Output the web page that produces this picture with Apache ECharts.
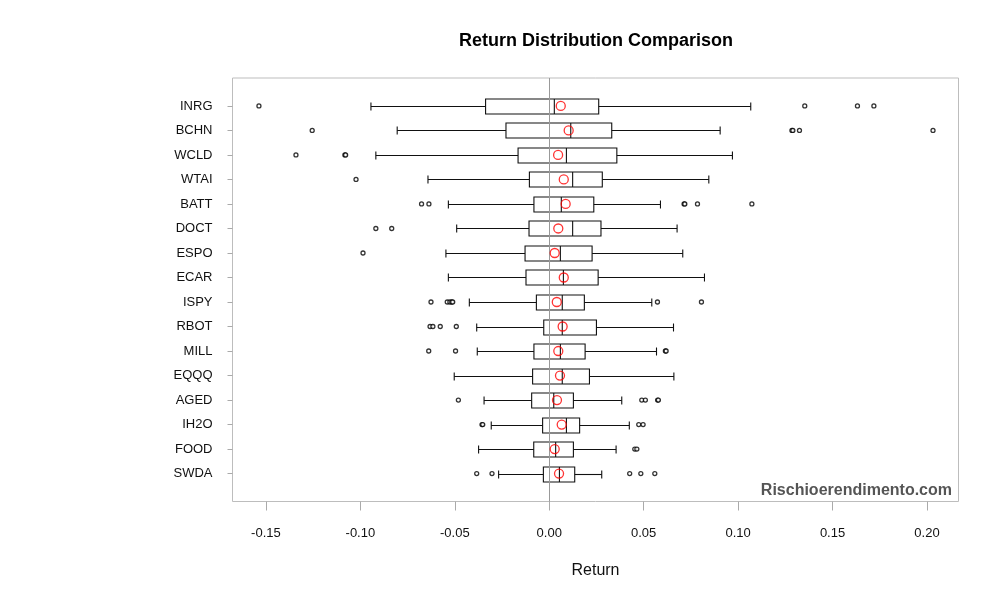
<!DOCTYPE html>
<html>
<head>
<meta charset="utf-8">
<script src="https://cdn.jsdelivr.net/npm/echarts@6/dist/echarts.min.js"></script>
<style>html,body{margin:0;padding:0;background:#fff}#c{width:1000px;height:600px}</style>
</head>
<body>
<div id="c"></div>
<script>
// Categories, top to bottom as displayed
var categories = ['INRG','BCHN','WCLD','WTAI','BATT','DOCT','ESPO','ECAR','ISPY','RBOT','MILL','EQQQ','AGED','IH2O','FOOD','SWDA'];
var whiskerLow  = [-0.0944,-0.0805,-0.0918,-0.0642,-0.0534,-0.0490,-0.0547,-0.0534,-0.0423,-0.0384,-0.0381,-0.0503,-0.0345,-0.0307,-0.0374,-0.0268];
var q1          = [-0.0337,-0.0229,-0.0165,-0.0105,-0.0081,-0.0107,-0.0128,-0.0123,-0.0068,-0.0029,-0.0081,-0.0088,-0.0093,-0.0035,-0.0082,-0.0031];
var medians     = [0.0027,0.0114,0.0091,0.0124,0.0064,0.0124,0.0059,0.0075,0.0069,0.0069,0.0059,0.0069,0.0024,0.0091,0.0034,0.0054];
var q3          = [0.0262,0.0331,0.0358,0.0281,0.0236,0.0274,0.0227,0.0259,0.0186,0.0250,0.0190,0.0213,0.0128,0.0161,0.0128,0.0135];
var whiskerHigh = [0.1067,0.0905,0.0970,0.0845,0.0589,0.0677,0.0707,0.0822,0.0543,0.0658,0.0568,0.0660,0.0384,0.0424,0.0354,0.0278];
var means       = [0.0061,0.0103,0.0047,0.0077,0.0087,0.0048,0.0029,0.0077,0.0040,0.0071,0.0048,0.0057,0.0041,0.0066,0.0029,0.0052];
var outliers = [
  [-0.1537, 0.1353, 0.1632, 0.1719],
  [-0.1255, 0.1285, 0.1290, 0.1325, 0.2032],
  [-0.1341, -0.1082, -0.1078],
  [-0.1023],
  [-0.0676, -0.0637, 0.0714, 0.0718, 0.0785, 0.1073],
  [-0.0918, -0.0834],
  [-0.0986],
  [],
  [-0.0626, -0.0540, -0.0526, -0.0516, -0.0511, 0.0573, 0.0806],
  [-0.0631, -0.0616, -0.0577, -0.0492],
  [-0.0638, -0.0496, 0.0615, 0.0619],
  [],
  [-0.0481, 0.0490, 0.0509, 0.0574, 0.0578],
  [-0.0356, -0.0352, 0.0474, 0.0497],
  [0.0453, 0.0464],
  [-0.0384, -0.0303, 0.0426, 0.0485, 0.0559]
];
var xTicks = [-0.15, -0.10, -0.05, 0.00, 0.05, 0.10, 0.15, 0.20];

var n = categories.length;
function pos(i){ return n - i; }
var boxData = categories.map(function(c,i){ return [pos(i), whiskerLow[i], q1[i], medians[i], q3[i], whiskerHigh[i]]; });
var meanData = categories.map(function(c,i){ return [means[i], pos(i)]; });
var outData = [];
outliers.forEach(function(arr,i){ arr.forEach(function(v){ outData.push([v, pos(i)]); }); });
var yPositions = categories.map(function(c,i){ return pos(i); });

var FONT = 'Liberation Sans, Arial, Helvetica, sans-serif';
var chart = echarts.init(document.getElementById('c'));
chart.setOption({
  animation: false,
  backgroundColor: '#fff',
  grid: { left: 232.5, right: 41.5, top: 78, bottom: 98.5, show: true, borderColor: '#bdbdbd', borderWidth: 1, backgroundColor: 'transparent' },
  xAxis: {
    type: 'value', min: -0.1677, max: 0.2167, position: 'bottom',
    axisLine: { show: false, onZero: false },
    splitLine: { show: false },
    axisTick: { show: true, customValues: xTicks, length: 9, lineStyle: { color: '#aaa' } },
    axisLabel: { customValues: xTicks, margin: 25, fontSize: 13, color: '#111', fontFamily: FONT,
      formatter: function(v){ return v.toFixed(2); } },
    name: 'Return', nameLocation: 'middle', nameGap: 61,
    nameTextStyle: { fontSize: 16, color: '#111', fontFamily: FONT }
  },
  yAxis: {
    type: 'value', min: -0.14, max: 17.14, position: 'left',
    axisLine: { show: false, onZero: false },
    splitLine: { show: false },
    axisTick: { show: true, customValues: yPositions, length: 5, lineStyle: { color: '#aaa' } },
    axisLabel: { customValues: yPositions, margin: 20, fontSize: 13, color: '#111', fontFamily: FONT,
      formatter: function(v){ return categories[n - Math.round(v)] || ''; } }
  },
  graphic: [
    { type: 'text', x: 596, y: 41, style: { text: 'Return Distribution Comparison', font: 'bold 18px ' + FONT, fill: '#000', align: 'center', verticalAlign: 'middle' } },
    { type: 'text', x: 952, y: 491, z: 10, style: { text: 'Rischioerendimento.com', font: 'bold 16px ' + FONT, fill: '#555', align: 'right', verticalAlign: 'middle' } }
  ],
  series: [
    {
      type: 'custom',
      data: boxData,
      encode: { x: [1,2,3,4,5], y: 0 },
      z: 3,
      markLine: {
        silent: true, symbol: 'none', label: { show: false },
        lineStyle: { color: '#999', width: 1, type: 'solid' },
        data: [ { xAxis: 0 } ]
      },
      renderItem: function(params, api){
        var p = api.value(0);
        var lo = api.coord([api.value(1), p]);
        var a = api.coord([api.value(2), p]);
        var m = api.coord([api.value(3), p]);
        var b = api.coord([api.value(4), p]);
        var hi = api.coord([api.value(5), p]);
        var y = Math.round(lo[1]) + 0.5;
        var h = 7.5, c = 4;
        var st = { stroke: '#111', lineWidth: 1.1, fill: null };
        return { type: 'group', children: [
          { type: 'line', shape: { x1: lo[0], y1: y, x2: a[0], y2: y }, style: st },
          { type: 'line', shape: { x1: b[0], y1: y, x2: hi[0], y2: y }, style: st },
          { type: 'line', shape: { x1: lo[0], y1: y - c, x2: lo[0], y2: y + c }, style: st },
          { type: 'line', shape: { x1: hi[0], y1: y - c, x2: hi[0], y2: y + c }, style: st },
          { type: 'rect', shape: { x: a[0], y: y - h, width: b[0] - a[0], height: 2 * h }, style: { stroke: '#111', lineWidth: 1.1, fill: 'none' } },
          { type: 'line', shape: { x1: m[0], y1: y - h, x2: m[0], y2: y + h }, style: st }
        ] };
      }
    },
    {
      type: 'scatter', data: outData, symbol: 'circle', symbolSize: 4, z: 4,
      itemStyle: { color: '#fff', borderColor: '#000', borderWidth: 1.3 },
      emphasis: { disabled: true }
    },
    {
      type: 'scatter', data: meanData, symbol: 'circle', symbolSize: 9, z: 5,
      itemStyle: { color: 'rgba(0,0,0,0)', borderColor: '#ff0000', borderWidth: 1.3 },
      emphasis: { disabled: true }
    }
  ]
});
</script>
</body>
</html>
